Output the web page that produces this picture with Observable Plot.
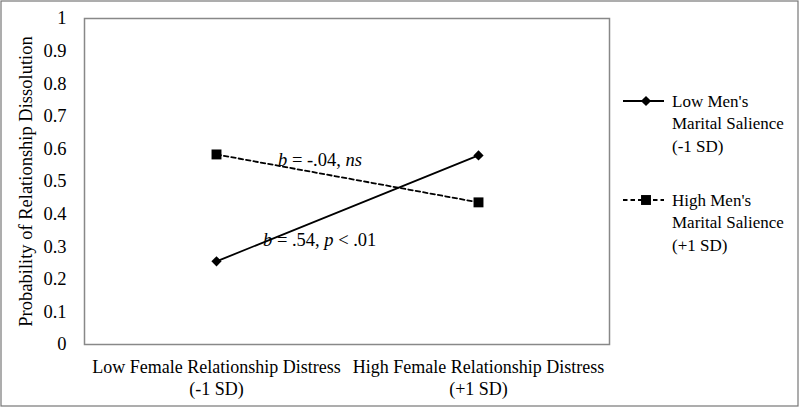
<!DOCTYPE html>
<html>
<head>
<meta charset="utf-8">
<script src="https://cdn.jsdelivr.net/npm/d3@7"></script>
<script src="https://cdn.jsdelivr.net/npm/@observablehq/plot@0.6"></script>
<style>
  html, body { margin: 0; padding: 0; background: #fff; }
  svg { display: block; }
</style>
</head>
<body>
<div id="chart"></div>
<script>
// ---- data ----
const categories = ["Low Female Relationship Distress\n(-1 SD)", "High Female Relationship Distress\n(+1 SD)"];
const seriesNames = ["Low Men's\nMarital Salience\n(-1 SD)", "High Men's\nMarital Salience\n(+1 SD)"];
const lowMenValues = [0.255, 0.58];
const highMenValues = [0.583, 0.436];
const yTicks = [0, 0.1, 0.2, 0.3, 0.4, 0.5, 0.6, 0.7, 0.8, 0.9, 1];
const yTitle = "Probability of Relationship Dissolution";
const annotations = [
  [{t: "b", i: true}, {t: " = -.04, ", i: false}, {t: "ns", i: true}],
  [{t: "b", i: true}, {t: " = .54, ", i: false}, {t: "p", i: true}, {t: " < .01", i: false}]
];

const lowMen = categories.map((c, k) => ({cat: c, value: lowMenValues[k]}));
const highMen = categories.map((c, k) => ({cat: c, value: highMenValues[k]}));

const font = "'Liberation Serif', 'Times New Roman', serif";

const plot = Plot.plot({
  width: 800,
  height: 408,
  marginLeft: 84,
  marginRight: 191,
  marginTop: 18,
  marginBottom: 64,
  style: {fontFamily: font, background: "#fff", color: "#000"},
  x: {type: "band", domain: categories, padding: 0},
  y: {domain: [0, 1]},
  marks: [
    Plot.frame({stroke: "#888", strokeWidth: 1.5}),
    Plot.axisY({ticks: yTicks, tickSize: 0, tickPadding: 18, fontSize: 18.5,
      tickFormat: d => d === 0 ? "0" : d === 1 ? "1" : d.toFixed(1), label: null}),
    Plot.axisX({tickSize: 0, tickPadding: 14, fontSize: 18, lineHeight: 1.17, label: null}),
    Plot.text([yTitle], {frameAnchor: "left", textAnchor: "middle", lineAnchor: "middle", rotate: -90, dx: -58, fontSize: 18.5, text: d => d, fill: "#000"}),
    Plot.line(highMen, {x: "cat", y: "value", stroke: "#000", strokeWidth: 1.8, strokeDasharray: "4.5,3"}),
    Plot.line(lowMen, {x: "cat", y: "value", stroke: "#000", strokeWidth: 1.8}),
    Plot.dot(highMen, {x: "cat", y: "value", symbol: "square", r: 5.6, fill: "#000", stroke: "none"}),
    Plot.dot(lowMen, {x: "cat", y: "value", symbol: "diamond2", r: 4.6, fill: "#000", stroke: "none"})
  ]
});

document.getElementById("chart").appendChild(plot);

const svg = d3.select(plot);
const xs = plot.scale("x");
const ys = plot.scale("y");
const cx0 = xs.apply(categories[0]) + xs.bandwidth / 2;

// annotations
const annPos = [
  {x: cx0 + 62, y: ys.apply(highMenValues[0]) + 12},
  {x: cx0 + 47, y: ys.apply(lowMenValues[0]) - 15}
];
annotations.forEach((parts, k) => {
  const t = svg.append("text")
    .attr("x", annPos[k].x).attr("y", annPos[k].y)
    .attr("text-anchor", "start")
    .attr("font-family", font).attr("font-size", 18.5).attr("fill", "#000");
  parts.forEach(p => t.append("tspan").attr("font-style", p.i ? "italic" : "normal").text(p.t));
});

// legend
const legend = svg.append("g").attr("font-family", font).attr("font-size", 17).attr("text-anchor", "start");
const legendY = [101, 200];
seriesNames.forEach((name, k) => {
  const y = legendY[k];
  legend.append("line").attr("x1", 623).attr("x2", 664).attr("y1", y).attr("y2", y)
    .attr("stroke", "#000").attr("stroke-width", 1.8)
    .attr("stroke-dasharray", k === 1 ? "4.5,3" : null);
  const sym = k === 0 ? d3.symbolDiamond2 : d3.symbolSquare;
  const size = k === 0 ? 4.6 * 4.6 * Math.PI : 5.6 * 5.6 * Math.PI;
  legend.append("path").attr("d", d3.symbol(sym, size)()).attr("transform", `translate(646,${y})`).attr("fill", "#000");
  name.split("\n").forEach((line, j) => {
    legend.append("text").attr("x", 672).attr("y", y + j * 22.5).attr("dy", "0.35em").attr("fill", "#000").text(line);
  });
});

// outer border
svg.append("rect").attr("x", 1).attr("y", 1).attr("width", 797).attr("height", 405)
  .attr("fill", "none").attr("stroke", "#777").attr("stroke-width", 1.2);
</script>
</body>
</html>
